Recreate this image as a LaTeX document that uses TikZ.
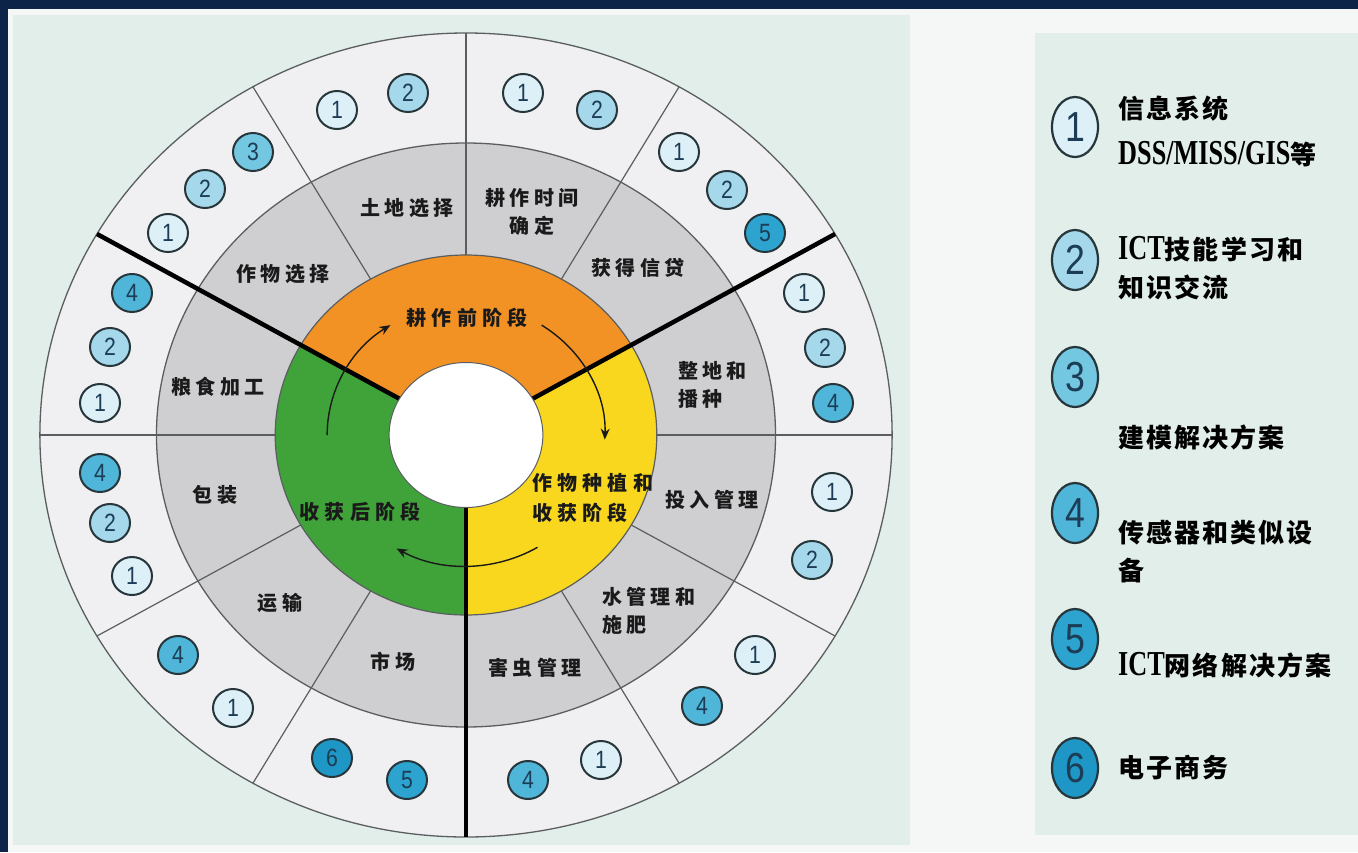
\documentclass[tikz,border=0pt]{standalone}
\usepackage{fontspec}
\usetikzlibrary{arrows.meta,shapes.geometric}
\newfontfamily\cjkwheel[LetterSpace=22]{Noto Sans CJK SC}
\newfontfamily\cjkphase[LetterSpace=26]{Noto Sans CJK SC}
\newfontfamily\cjklegend[LetterSpace=8]{Noto Sans CJK SC}
\newfontfamily\latnarrow[FakeStretch=0.75]{Liberation Serif}
\newfontfamily\numfont[FakeStretch=0.85]{Liberation Sans}
\newcommand\LatL[1]{{\latnarrow\bfseries\fontsize{35}{40}\selectfont #1}}
\definecolor{navy}{HTML}{0B2447}
\definecolor{marginc}{HTML}{F4F7F6}
\definecolor{mint}{HTML}{E1EEE9}
\definecolor{outerring}{HTML}{F0EFF1}
\definecolor{grayring}{HTML}{CFCFD2}
\definecolor{phaseorange}{HTML}{F39224}
\definecolor{phaseyellow}{HTML}{F8D71E}
\definecolor{phasegreen}{HTML}{3FA33A}
\definecolor{ringline}{HTML}{5A5E60}
\definecolor{textdark}{HTML}{1A1A1A}
\definecolor{circborder}{HTML}{26363B}
\definecolor{numtext}{HTML}{1C3D55}
\definecolor{cone}{HTML}{DDF0F8}
\definecolor{ctwo}{HTML}{A6D8EB}
\definecolor{cthree}{HTML}{74C7E1}
\definecolor{cfour}{HTML}{50B6D9}
\definecolor{cfive}{HTML}{2DA4D0}
\definecolor{csix}{HTML}{1F97C6}
\begin{document}
\begin{tikzpicture}[x=1pt,y=-1pt,
  thinline/.style={draw=ringline,line width=1.2pt},
  thickline/.style={draw=black,line width=4.5pt},
  cyclearrow/.style={draw=textdark,line width=1.4pt,-{Stealth[length=11pt,width=9pt]}},
  lab/.style={font={\cjkwheel\bfseries\fontsize{20}{28}\selectfont},text=textdark,inner sep=0pt,align=center},
  labl/.style={lab,align=left,anchor=west},
  phase/.style={font={\cjkphase\bfseries\fontsize{20}{30}\selectfont},text=textdark,inner sep=0pt,align=center},
  numc/.style={ellipse,minimum width=40pt,minimum height=38pt,inner sep=0pt,draw=circborder,line width=2pt,
    font={\numfont\fontsize{25}{25}\selectfont},text=numtext},
  legc/.style={ellipse,minimum width=46pt,minimum height=60pt,inner sep=0pt,draw=circborder,line width=2.2pt,
    font={\numfont\fontsize{42}{42}\selectfont},text=numtext},
  legtxt/.style={font={\cjklegend\bfseries\fontsize{26}{30}\selectfont},text=black,inner sep=0pt,anchor=base west},
  n1/.style={fill=cone},n2/.style={fill=ctwo},n3/.style={fill=cthree},
  n4/.style={fill=cfour},n5/.style={fill=cfive},n6/.style={fill=csix}]
\useasboundingbox (0,0) rectangle (1358,852);
% backgrounds
\fill[navy] (0,0) rectangle (1358,852);
\fill[marginc] (8,9) rectangle (1358,852);
\fill[mint] (13,15) rectangle (910,845);
\fill[mint] (1035,33) rectangle (1358,835);
% wheel
\begin{scope}[shift={(466,435)},xscale=1.06,yscale=-1]
  \filldraw[fill=outerring,draw=ringline,line width=1.3pt] (0,0) circle[radius=402];
  \filldraw[fill=grayring,draw=ringline,line width=1.3pt] (0,0) circle[radius=292];
  \fill[phaseorange] (0,0) -- (30:180) arc[start angle=30,end angle=150,radius=180] -- cycle;
  \fill[phasegreen] (0,0) -- (150:180) arc[start angle=150,end angle=270,radius=180] -- cycle;
  \fill[phaseyellow] (0,0) -- (270:180) arc[start angle=270,end angle=390,radius=180] -- cycle;
  \draw[draw=ringline,line width=1.2pt] (0,0) circle[radius=180];
  \foreach \a in {0,60,90,120,180,210,240,300,330}
    \draw[thinline] (\a:180) -- (\a:402);
  \foreach \a in {30,150,270}
    \draw[thickline] (\a:72.5) -- (\a:402);
  \filldraw[fill=white,draw=ringline,line width=1pt] (0,0) circle[radius=72.5];
  \draw[cyclearrow] (180:131) arc[start angle=180,end angle=123,radius=131];
  \draw[cyclearrow] (57:131) arc[start angle=57,end angle=-2,radius=131];
  \draw[cyclearrow] (-59:131) arc[start angle=-59,end angle=-120,radius=131];
\end{scope}
% phase labels
\node[phase] (p1) at (467,318) {耕作前阶段};
\node[phase,align=left,anchor=west] (p2) at (532,498) {作物种植和\\收获阶段};
\node[phase] (p3) at (360,512) {收获后阶段};
% activity labels
\node[lab] (a1) at (407,208) {土地选择};
\node[lab] (a2) at (532,212) {耕作时间\\确定};
\node[lab] (a3) at (638,268) {获得信贷};
\node[labl] (a4) at (678,385) {整地和\\播种};
\node[lab] (a5) at (712,500) {投入管理};
\node[labl] (a6) at (602,611) {水管理和\\施肥};
\node[lab] (a7) at (535,668) {害虫管理};
\node[lab] (a8) at (393,662) {市场};
\node[lab] (a9) at (280,603) {运输};
\node[lab] (a10) at (215,495) {包装};
\node[lab] (a11) at (218,387) {粮食加工};
\node[lab] (a12) at (283,274) {作物选择};
% number circles in the outer ring
\node[numc,n1] (s1a) at (337,110) {1};
\node[numc,n2] (s1b) at (408,93) {2};
\node[numc,n1] (s2a) at (523,93) {1};
\node[numc,n2] (s2b) at (597,110) {2};
\node[numc,n1] (s3a) at (679,152) {1};
\node[numc,n2] (s3b) at (727,190) {2};
\node[numc,n5] (s3c) at (765,233) {5};
\node[numc,n1] (s4a) at (804,293) {1};
\node[numc,n2] (s4b) at (825,348) {2};
\node[numc,n4] (s4c) at (833,403) {4};
\node[numc,n1] (s5a) at (832,492) {1};
\node[numc,n2] (s5b) at (812,560) {2};
\node[numc,n1] (s6a) at (755,655) {1};
\node[numc,n4] (s6b) at (702,706) {4};
\node[numc,n1] (s7a) at (601,760) {1};
\node[numc,n4] (s7b) at (528,780) {4};
\node[numc,n5] (s8a) at (407,780) {5};
\node[numc,n6] (s8b) at (332,758) {6};
\node[numc,n1] (s9a) at (233,708) {1};
\node[numc,n4] (s9b) at (178,655) {4};
\node[numc,n1] (s10a) at (132,576) {1};
\node[numc,n2] (s10b) at (110,523) {2};
\node[numc,n4] (s10c) at (100,473) {4};
\node[numc,n1] (s11a) at (100,403) {1};
\node[numc,n2] (s11b) at (110,347) {2};
\node[numc,n4] (s11c) at (132,293) {4};
\node[numc,n1] (s12a) at (168,233) {1};
\node[numc,n2] (s12b) at (205,189) {2};
\node[numc,n3] (s12c) at (253,152) {3};
% legend
\node[legc,n1] (g1) at (1075,127) {1};
\node[legc,n2] (g2) at (1075,260) {2};
\node[legc,n3] (g3) at (1075,377) {3};
\node[legc,n4] (g4) at (1075,513) {4};
\node[legc,n5] (g5) at (1075,639) {5};
\node[legc,n6] (g6) at (1075,768) {6};
\node[legtxt] (t1a) at (1118,118) {信息系统};
\node[legtxt] (t1b) at (1118,164) {\LatL{DSS/MISS/GIS}等};
\node[legtxt] (t2a) at (1118,259) {\LatL{ICT}技能学习和};
\node[legtxt] (t2b) at (1118,297) {知识交流};
\node[legtxt] (t3) at (1118,447) {建模解决方案};
\node[legtxt] (t4a) at (1118,542) {传感器和类似设};
\node[legtxt] (t4b) at (1118,580) {备};
\node[legtxt] (t5) at (1118,675) {\LatL{ICT}网络解决方案};
\node[legtxt] (t6) at (1118,777) {电子商务};
\end{tikzpicture}
\end{document}
